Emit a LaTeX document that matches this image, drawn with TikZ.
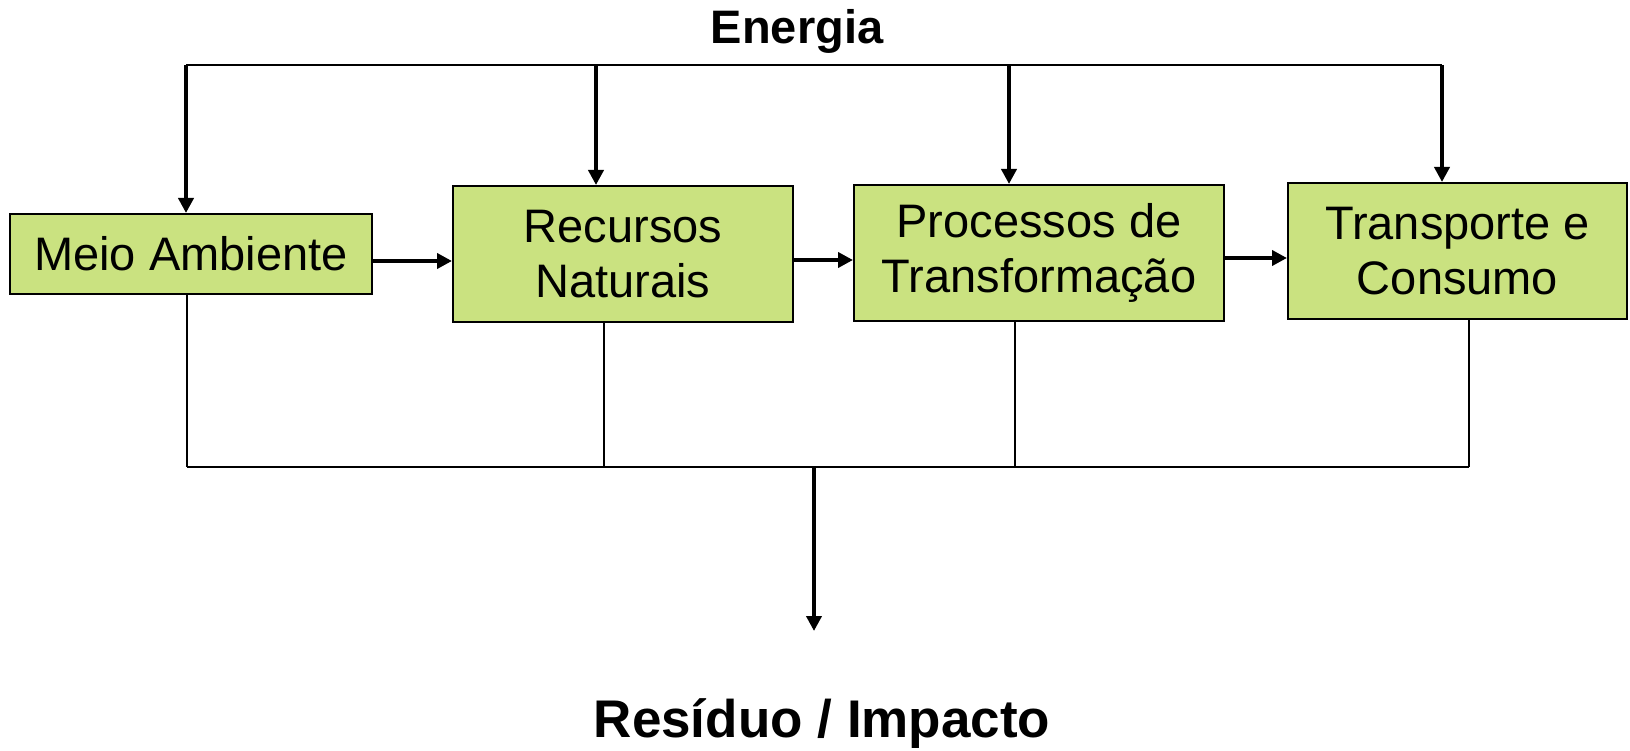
\documentclass[tikz,border=0pt]{standalone}
\usepackage{fontspec}
\setmainfont{Liberation Sans}
\usetikzlibrary{arrows.meta}
\definecolor{boxgreen}{RGB}{202,226,128}
\begin{document}
\begin{tikzpicture}[x=1pt,y=-1pt,
  flowbox/.style={draw=black, line width=2pt, fill=boxgreen, inner sep=0pt, align=center,
    font=\fontsize{47}{55}\selectfont, anchor=north west},
  thin/.style={line width=2.4pt},
  heavy/.style={line width=4.5pt, -{Triangle[length=15pt,width=15pt]}}]
\useasboundingbox (0,0) rectangle (1630,751);
\node[flowbox, minimum width=362pt, minimum height=80pt] (meio) at (9,213) {Meio Ambiente};
\node[flowbox, minimum width=340pt, minimum height=136pt] (rec) at (452,185) {Recursos\\Naturais};
\node[flowbox, minimum width=370pt, minimum height=136pt] (proc) at (853,184) {Processos de\\Transformação};
\node[flowbox, minimum width=339pt, minimum height=136pt] (trans) at (1287,182) {Transporte e\\Consumo};
\node[font=\bfseries\fontsize{47}{54}\selectfont] (energia) at (797,31) {Energia};
\node[font=\bfseries\fontsize{53}{60}\selectfont] (residuo) at (822,724) {Resíduo / Impacto};
% energy line
\coordinate (e1) at (186,65);
\coordinate (e2) at (596,65);
\coordinate (e3) at (1009,65);
\coordinate (e4) at (1442,65);
\draw[thin] (e1) -- (e4);
\draw[heavy] (e1) -- (e1 |- meio.north);
\draw[heavy] (e2) -- (e2 |- rec.north);
\draw[heavy] (e3) -- (e3 |- proc.north);
\draw[heavy] (e4) -- (e4 |- trans.north);
% flow arrows
\draw[heavy] ([yshift=-7pt]meio.east) -- ([yshift=-7pt]meio.east -| rec.west);
\draw[heavy] ([yshift=-6pt]rec.east) -- ([yshift=-6pt]rec.east -| proc.west);
\draw[heavy] ([yshift=-5pt]proc.east) -- ([yshift=-5pt]proc.east -| trans.west);
% waste lines
\coordinate (b1) at (187,467);
\coordinate (b2) at (604,467);
\coordinate (b3) at (1015,467);
\coordinate (b4) at (1469,467);
\coordinate (bm) at (814,467);
\coordinate (bend) at (814,631);
\draw[thin] (b1 |- meio.south) -- (b1);
\draw[thin] (b2 |- rec.south) -- (b2);
\draw[thin] (b3 |- proc.south) -- (b3);
\draw[thin] (b4 |- trans.south) -- (b4);
\draw[thin] (b1) -- (b4);
\draw[heavy] (bm) -- (bend);
\end{tikzpicture}
\end{document}
